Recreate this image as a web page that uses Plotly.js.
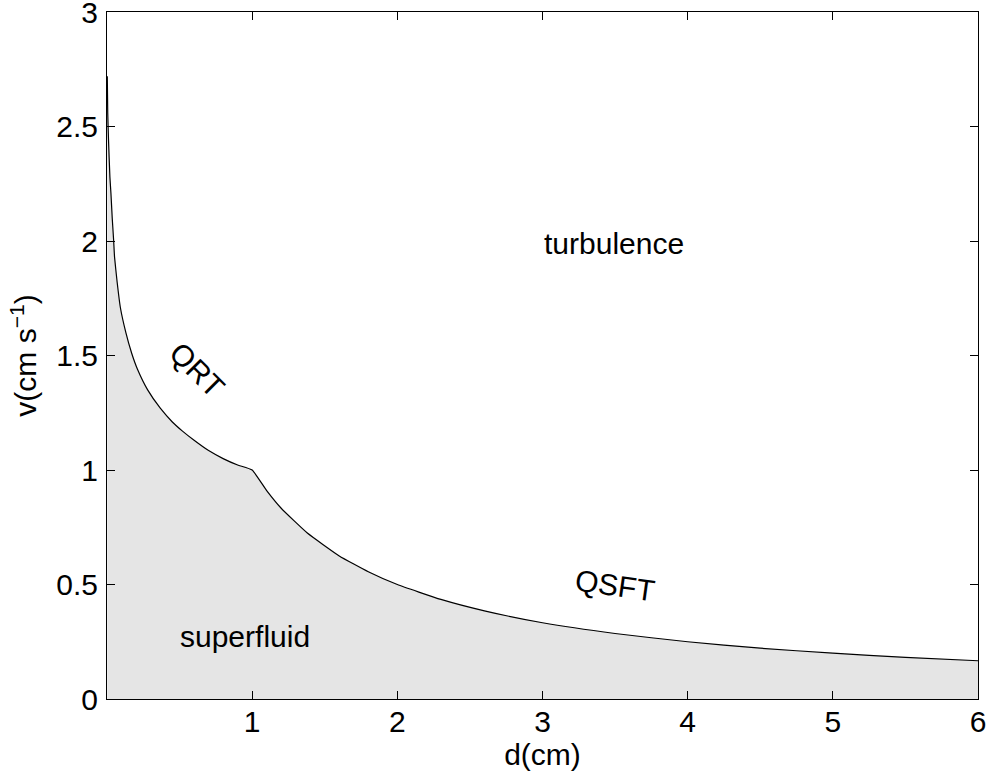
<!DOCTYPE html>
<html>
<head>
<meta charset="utf-8">
<script src="https://cdn.plot.ly/plotly-3.0.1.min.js"></script>
<style>html,body{margin:0;padding:0;background:#fff;}#chart{width:989px;height:776px;}</style>
</head>
<body>
<div id="chart"></div>
<script>
// critical velocity boundary
var dValues = [0.002, 0.005, 0.01, 0.02, 0.027, 0.036, 0.046, 0.052, 0.07, 0.092, 0.13, 0.17, 0.21, 0.28, 0.367, 0.45, 0.52, 0.6, 0.7, 0.8, 0.9, 1.0, 1.1, 1.2, 1.38, 1.6, 1.8, 2.0, 2.3, 2.6, 3.0, 3.5, 4.0, 4.5, 5.0, 5.5, 6.0];
var vValues = [2.72, 2.56, 2.45, 2.28, 2.21, 2.10, 2.0, 1.93, 1.82, 1.71, 1.60, 1.51, 1.44, 1.35, 1.27, 1.21, 1.17, 1.13, 1.085, 1.05, 1.022, 1.0, 0.91, 0.833, 0.725, 0.625, 0.556, 0.50, 0.435, 0.385, 0.333, 0.286, 0.25, 0.222, 0.20, 0.182, 0.167];

var xTicks = [1, 2, 3, 4, 5, 6];
var yTicks = [0, 0.5, 1, 1.5, 2, 2.5, 3];
var yTickLabels = ['0', '0.5', '1', '1.5', '2', '2.5', '3'];

var regionLabels = ['turbulence', 'superfluid', 'QRT', 'QSFT'];
var regionX = [3.49, 0.95, 0.62, 3.50];
var regionY = [1.99, 0.275, 1.44, 0.495];
var regionAngle = [0, 0, 45, 8];

var font = {family: 'Liberation Sans, Arial, Helvetica, sans-serif', size: 30, color: '#000'};

var trace = {
  x: dValues, y: vValues, type: 'scatter', mode: 'lines',
  line: {color: '#000', width: 1.2, shape: 'spline', smoothing: 0.4},
  fill: 'tozeroy', fillcolor: '#e5e5e5',
  hoverinfo: 'skip', showlegend: false
};

var annotations = regionLabels.map(function (t, i) {
  return {x: regionX[i], y: regionY[i], xref: 'x', yref: 'y', text: t,
    showarrow: false, textangle: regionAngle[i], font: font};
});

var layout = {
  width: 989, height: 776,
  margin: {l: 107, r: 11, t: 12, b: 77},
  paper_bgcolor: '#fff', plot_bgcolor: '#fff',
  font: font,
  showlegend: false,
  xaxis: {
    range: [0, 6], tickvals: xTicks, ticktext: xTicks.map(String),
    ticks: 'inside', ticklen: 8, tickcolor: '#000', tickwidth: 1,
    showline: true, linecolor: '#000', linewidth: 1, mirror: 'allticks',
    showgrid: false, zeroline: false, ticklabelstandoff: -4,
    title: {text: 'd(cm)', font: font, standoff: 0},
    tickfont: font
  },
  yaxis: {
    range: [0, 3.0005], tickvals: yTicks, ticktext: yTickLabels,
    ticks: 'inside', ticklen: 8, tickcolor: '#000', tickwidth: 1,
    showline: true, linecolor: '#000', linewidth: 1, mirror: 'allticks',
    showgrid: false, zeroline: false, ticklabelstandoff: 2,
    ticklabeloverflow: 'allow',
    title: {text: 'v(cm s<sup>\u22121</sup>)', font: font, standoff: 10},
    tickfont: font
  },
  annotations: annotations
};

Plotly.newPlot('chart', [trace], layout, {displayModeBar: false, staticPlot: true});
</script>
</body>
</html>
